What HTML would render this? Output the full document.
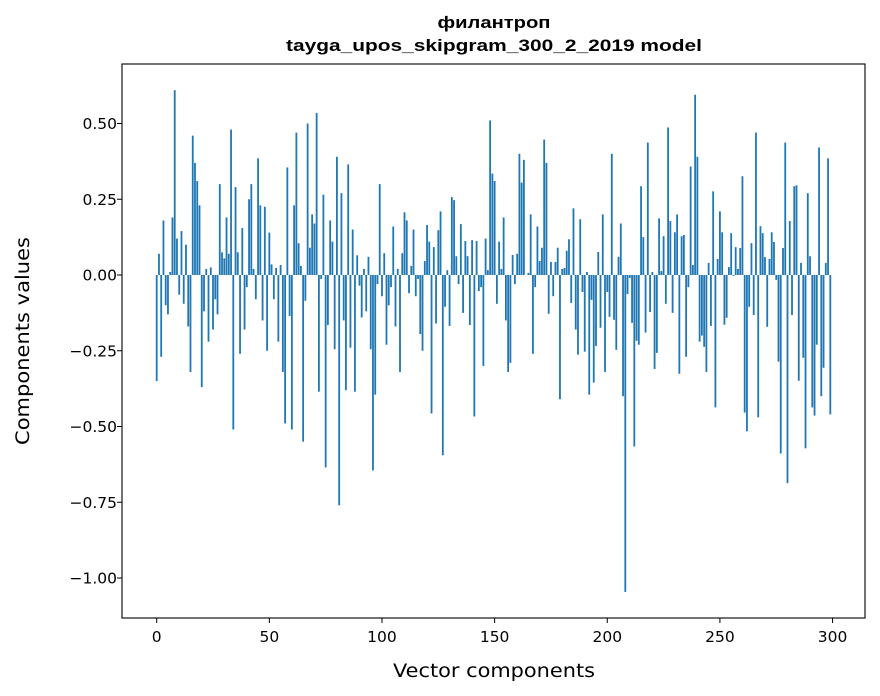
<!DOCTYPE html>
<html><head><meta charset="utf-8"><style>
html,body{margin:0;padding:0;background:#fff;}
svg{display:block;font-family:"DejaVu Sans","Liberation Sans",sans-serif;}
</style></head><body>
<svg id="chart" width="880" height="696" viewBox="0 0 880 696" xmlns="http://www.w3.org/2000/svg">
<rect width="880" height="696" fill="#fff"/>
<text x="494" y="28" text-anchor="middle" font-size="17" font-weight="bold" font-family="Liberation Sans, sans-serif" textLength="113" lengthAdjust="spacingAndGlyphs">филантроп</text>
<text x="494" y="51" text-anchor="middle" font-size="17" font-weight="bold" font-family="Liberation Sans, sans-serif" textLength="416" lengthAdjust="spacingAndGlyphs">tayga_upos_skipgram_300_2_2019 model</text>
<g id="bars"></g>
<g id="axes"></g>
<text x="494" y="677" text-anchor="middle" font-size="18.5" textLength="202" lengthAdjust="spacingAndGlyphs">Vector components</text>
<text transform="translate(29,341) rotate(-90)" text-anchor="middle" font-size="18.5" textLength="208" lengthAdjust="spacingAndGlyphs">Components values</text>
</svg>
<script>
const values = [
-0.35,0.07,-0.27,0.18,-0.10,-0.13,0.01,0.19,0.61,0.12,
-0.065,0.145,-0.095,0.10,-0.17,-0.32,0.46,0.37,0.31,0.23,
-0.37,-0.12,0.02,-0.22,0.025,-0.18,-0.08,-0.13,0.30,0.075,
0.055,0.19,0.07,0.48,-0.51,0.29,0.075,-0.26,0.155,-0.18,
-0.04,0.25,0.30,0.02,-0.08,0.385,0.23,-0.15,0.225,-0.25,
0.14,0.035,-0.08,0.023,-0.22,0.033,-0.32,-0.49,0.355,-0.135,
-0.51,0.23,0.47,0.105,0.03,-0.55,-0.085,0.50,0.09,0.20,
0.17,0.535,-0.385,-0.013,0.265,-0.635,-0.165,0.18,0.11,-0.245,
0.39,-0.76,0.27,-0.15,-0.38,0.365,-0.24,0.15,-0.385,0.065,
-0.035,-0.14,0.02,-0.12,0.06,-0.245,-0.645,-0.395,-0.03,0.30,
-0.07,0.072,-0.23,-0.10,-0.04,0.16,-0.17,0.02,-0.32,0.072,
0.207,0.18,-0.06,0.03,0.15,-0.07,-0.013,-0.195,-0.25,0.046,
0.165,0.11,-0.457,0.092,-0.16,0.148,0.21,-0.595,-0.105,0.016,
-0.168,0.257,0.247,0.062,-0.03,0.168,-0.125,0.112,0.062,-0.165,
0.115,-0.467,0.112,-0.053,-0.04,-0.30,0.12,0.016,0.51,0.335,
0.31,-0.095,0.11,0.02,0.19,-0.15,-0.32,-0.29,0.066,-0.03,
0.07,0.40,0.305,0.38,0.0,0.007,0.20,-0.26,-0.04,0.16,
0.046,0.09,0.447,0.37,-0.128,0.043,-0.07,0.043,0.09,-0.41,
0.02,0.023,0.08,0.118,-0.092,0.22,-0.18,-0.263,0.184,-0.056,
-0.253,0.01,-0.395,-0.082,-0.355,-0.234,0.076,-0.174,0.20,-0.32,
-0.056,-0.138,0.40,-0.148,-0.247,0.06,0.17,-0.40,-1.046,-0.063,
-0.01,-0.158,-0.566,-0.217,-0.23,0.293,0.125,-0.19,0.437,-0.122,
0.01,-0.31,-0.257,0.187,0.013,0.128,-0.095,0.487,0.178,-0.125,
0.141,0.20,-0.326,0.128,0.132,-0.27,-0.04,0.358,0.033,0.595,
0.39,-0.22,-0.20,-0.237,-0.32,0.04,-0.168,0.276,-0.437,0.053,
0.21,0.141,-0.164,-0.141,0.026,0.138,-0.003,0.092,0.02,0.089,
0.326,-0.454,-0.516,-0.105,0.105,-0.132,0.47,-0.47,0.161,0.138,
0.059,-0.171,0.053,0.141,0.109,-0.016,-0.286,-0.589,0.089,0.437,
-0.687,0.178,-0.132,0.293,0.296,-0.349,0.04,-0.273,-0.572,0.27,
0.062,-0.437,-0.464,-0.23,0.421,-0.40,-0.306,0.04,0.385,-0.46
];
const xTicks = [0,50,100,150,200,250,300];
const yTicks = [0.5,0.25,0,-0.25,-0.5,-0.75,-1.0];
const yTickLabels = ["0.50","0.25","0.00","\u22120.25","\u22120.50","\u22120.75","\u22121.00"];

const L=122,R=865,T=64,B=618;
const xMin=-15.4,xMax=314.4;
const yZero=275, yPx=303;
function xs(v){return L+(v-xMin)/(xMax-xMin)*(R-L);}
function ys(v){return yZero - v*yPx;}
const NS="http://www.w3.org/2000/svg";
const bars=document.getElementById('bars');
values.forEach((v,i)=>{
  const r=document.createElementNS(NS,'rect');
  const x0=xs(i-0.4), x1=xs(i+0.4);
  const y0=ys(Math.max(v,0)), y1=ys(Math.min(v,0));
  r.setAttribute('x',x0);r.setAttribute('width',x1-x0);
  r.setAttribute('y',y0);r.setAttribute('height',Math.max(y1-y0,0));
  r.setAttribute('fill','#1f77b4');
  
  
  bars.appendChild(r);
});
const ax=document.getElementById('axes');
const frame=document.createElementNS(NS,'rect');
frame.setAttribute('x',L);frame.setAttribute('y',T);frame.setAttribute('width',R-L);frame.setAttribute('height',B-T);
frame.setAttribute('fill','none');frame.setAttribute('stroke','#000');frame.setAttribute('stroke-width','1.1');


ax.appendChild(frame);
xTicks.forEach(t=>{
  const x=xs(t);
  const l=document.createElementNS(NS,'line');
  l.setAttribute('x1',x);l.setAttribute('x2',x);l.setAttribute('y1',B);l.setAttribute('y2',B+5);
  l.setAttribute('stroke','#000');
  
  
  ax.appendChild(l);
  const tx=document.createElementNS(NS,'text');
  tx.setAttribute('x',x);tx.setAttribute('y',B+24);tx.setAttribute('text-anchor','middle');tx.setAttribute('font-size','15.5');
  tx.textContent=String(t);
  
  
  ax.appendChild(tx);
});
yTicks.forEach((t,k)=>{
  const y=ys(t);
  const l=document.createElementNS(NS,'line');
  l.setAttribute('x1',L-5);l.setAttribute('x2',L);l.setAttribute('y1',y);l.setAttribute('y2',y);
  l.setAttribute('stroke','#000');
  
  
  ax.appendChild(l);
  const tx=document.createElementNS(NS,'text');
  tx.setAttribute('x',L-5);tx.setAttribute('y',y+5.5);tx.setAttribute('text-anchor','end');tx.setAttribute('font-size','15.5');
  tx.textContent=yTickLabels[k];
  
  
  ax.appendChild(tx);
});
</script>
</body></html>
